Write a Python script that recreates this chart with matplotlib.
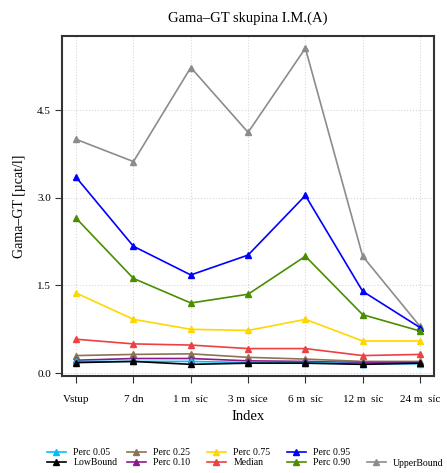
import matplotlib
matplotlib.use('Agg')
import matplotlib.pyplot as plt

labels = ["Vstup", "7 dn", "1 m  síc", "3 m  síce", "6 m  síc", "12 m  síc", "24 m  síc"]
idx = [1, 2, 3, 4, 5, 6, 7]

upper = [4.00, 3.62, 5.23, 4.12, 5.56, 2.00, 0.80]
p95 = [3.35, 2.17, 1.68, 2.02, 3.04, 1.40, 0.78]
p90 = [2.65, 1.62, 1.20, 1.35, 2.00, 1.00, 0.72]
p75 = [1.37, 0.92, 0.75, 0.73, 0.92, 0.55, 0.55]
median = [0.58, 0.50, 0.48, 0.42, 0.42, 0.30, 0.32]
p25 = [0.30, 0.32, 0.33, 0.27, 0.24, 0.20, 0.20]
p10 = [0.22, 0.25, 0.25, 0.21, 0.20, 0.18, 0.18]
p05 = [0.20, 0.20, 0.20, 0.18, 0.18, 0.16, 0.16]
lowb = [0.18, 0.20, 0.15, 0.17, 0.17, 0.15, 0.17]

series = [
    ("UpperBound", upper, '#8C8C8C'),
    ("Perc 0.95", p95, '#0000FF'),
    ("Perc 0.90", p90, '#4A8E00'),
    ("Perc 0.75", p75, '#FFD700'),
    ("Median", median, '#EE4040'),
    ("Perc 0.25", p25, '#8B7355'),
    ("Perc 0.10", p10, '#8B1A8B'),
    ("Perc 0.05", p05, '#00BFFF'),
    ("LowBound", lowb, '#000000'),
]

plt.rcParams['font.family'] = ['Liberation Serif', 'DejaVu Serif']
fig = plt.figure(figsize=(4.47, 4.73), dpi=100)
ax = fig.add_axes([0.139, 0.205, 0.832, 0.719])

lines = {}
for name, vals, col in series:
    ln, = ax.plot(idx, vals, color=col, marker='^', markersize=4.5, linewidth=1.2, label=name)
    lines[name] = ln

ax.set_xlim(0.755, 7.245)
ax.set_ylim(-0.05, 5.77)
ax.set_xticks(idx)
ax.set_xticklabels(labels, fontsize=8)
ax.set_yticks([0.0, 1.5, 3.0, 4.5])
ax.set_yticklabels(['0.0', '1.5', '3.0', '4.5'], fontsize=8)
ax.tick_params(axis='x', direction='out', length=5, pad=9, color='#333333')
ax.tick_params(axis='y', direction='out', length=5, pad=3, color='#333333')
ax.grid(True, linestyle=':', color='#D8D8D8', linewidth=0.8)
for s in ax.spines.values():
    s.set_linewidth(1.5)
    s.set_color('#333333')

ax.set_title('Gama–GT skupina I.M.(A)', fontsize=10.5, pad=10)
ax.set_xlabel('Index', fontsize=10.5, labelpad=4)
ax.set_ylabel('Gama–GT [µcat/l]', fontsize=10, labelpad=8)

# legend: five equal-width columns, two rows
cols = [["Perc 0.05", "LowBound"], ["Perc 0.25", "Perc 0.10"], ["Perc 0.75", "Median"],
        ["Perc 0.95", "Perc 0.90"], [None, "UpperBound"]]
for k, col in enumerate(cols):
    names = [n for n in col if n]
    hs = [lines[n] for n in names]
    y = 457.5 if len(names) == 2 else 463
    lg = fig.legend(hs, names, loc='center left',
                    bbox_to_anchor=((47 + 80 * k) / 447, (473 - y) / 473),
                    fontsize=7, frameon=False, handlelength=1.95, handletextpad=0.75,
                    labelspacing=0.1, borderpad=0, borderaxespad=0)

fig.savefig('out.png', dpi=100)
